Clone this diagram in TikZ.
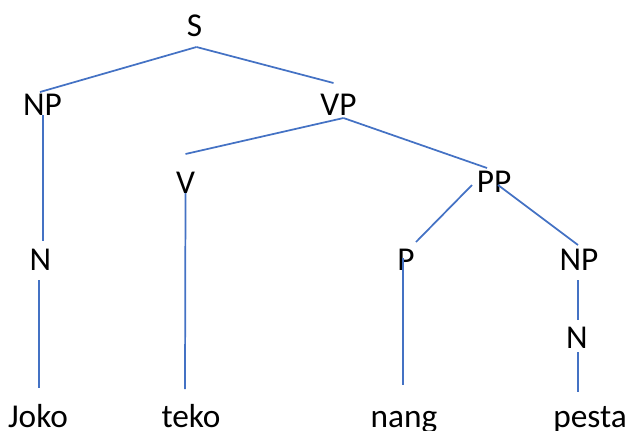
\documentclass[tikz,border=0pt]{standalone}
\usepackage{fontspec}
\setmainfont{Carlito}
\definecolor{branch}{HTML}{4472C4}
\begin{document}
\begin{tikzpicture}[x=0.75pt,y=-0.75pt,
    cat/.style={inner sep=0pt,anchor=base,font=\fontsize{25}{30}\selectfont},
    edge/.style={branch,line width=1.3pt}]
    \useasboundingbox (0,0) rectangle (625,430);
    % labels
    \node[cat] (S) at (194.5,36) {S};
    \node[cat] (NPa) at (42.5,115) {NP};
    \node[cat] (VP) at (338.5,115) {VP};
    \node[cat] (V) at (185.5,193) {V};
    \node[cat] (PP) at (494,192) {PP};
    \node[cat] (Na) at (40.5,270) {N};
    \node[cat] (P) at (406,270) {P};
    \node[cat] (NPb) at (579,270) {NP};
    \node[cat] (Nb) at (577,348) {N};
    \node[cat] (joko) at (38,427) {Joko};
    \node[cat] (teko) at (191,427) {teko};
    \node[cat] (nang) at (404,427) {nang};
    \node[cat] (pesta) at (590,427) {pesta};
    % branches
    \draw[edge] ([shift={(2,11)}]S.base) -- ([shift={(-2.5,-23)}]NPa.base);
    \draw[edge] ([shift={(2,11)}]S.base) -- ([shift={(-5,-32)}]VP.base);
    \draw[edge] ([shift={(5,3)}]VP.base) -- ([shift={(0,-39)}]V.base);
    \draw[edge] ([shift={(5,3)}]VP.base) -- ([shift={(-7,-24)}]PP.base);
    \draw[edge] ([shift={(-22,-7)}]PP.base) -- ([shift={(10,-28)}]P.base);
    \draw[edge] ([shift={(4,-7)}]PP.base) -- ([shift={(-1,-25)}]NPb.base);
    \draw[edge] ([shift={(0.5,0)}]NPa.base) -- ([shift={(2.5,-29)}]Na.base);
    \draw[edge] ([shift={(-1.5,10)}]Na.base) -- ([shift={(1,-39)}]joko.base);
    \draw[edge] ([shift={(0,0)}]V.base) -- ([shift={(-6,-38)}]teko.base);
    \draw[edge] ([shift={(-3,-12)}]P.base) -- ([shift={(-1,-42)}]nang.base);
    \draw[edge] ([shift={(-1,10)}]NPb.base) -- ([shift={(1,-28)}]Nb.base);
    \draw[edge] ([shift={(1,4)}]Nb.base) -- ([shift={(-12,-35)}]pesta.base);
\end{tikzpicture}
\end{document}
